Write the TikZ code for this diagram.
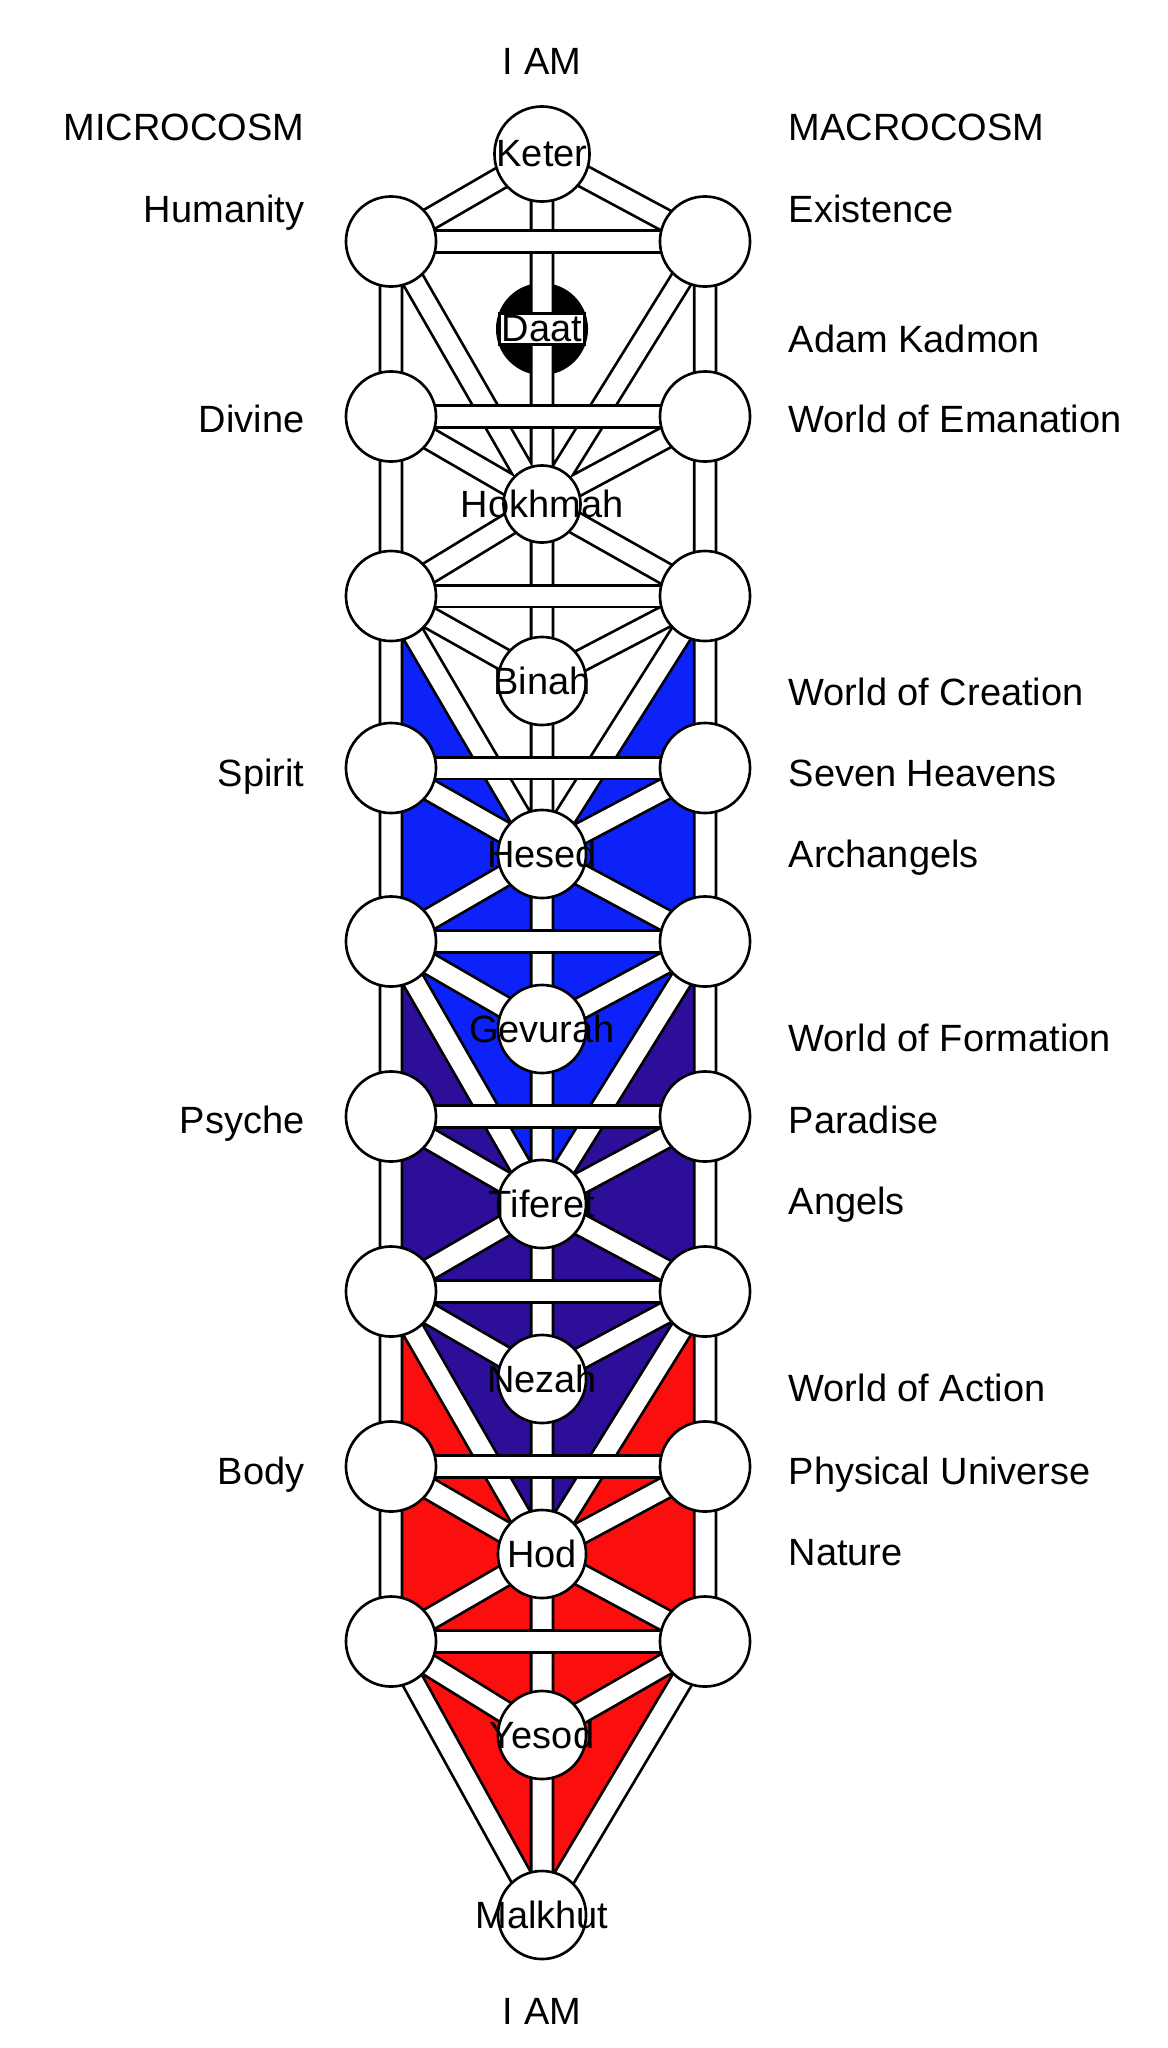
\documentclass[tikz,border=0pt]{standalone}
\usepackage{fontspec}
\setmainfont{Liberation Sans}
\usepackage{tikz}
\usepackage{xcolor}
\usetikzlibrary{positioning}

\definecolor{creationblue}{RGB}{12,34,248}
\definecolor{formationindigo}{RGB}{44,14,152}
\definecolor{actionred}{RGB}{250,14,14}

\pgfdeclarelayer{fills}
\pgfdeclarelayer{paths}
\pgfsetlayers{fills,paths,main}

\newcommand{\sefname}[1]{\makebox[0pt][c]{#1}}

\begin{document}
\begin{tikzpicture}[
  x=0.01cm, y=-0.01cm,
  labelfont/.style={font=\fontsize{10.8}{13}\selectfont},
  sefira/.style={circle, draw, line width=0.75pt, fill=white, minimum size=0.88cm, inner sep=0pt, labelfont},
  pillar/.style={sefira, minimum size=0.9cm},
  band/.style={draw=white, line width=0.19cm, preaction={draw=black, line width=0.245cm}},
  leftlabel/.style={labelfont, anchor=base east, inner sep=0pt},
  rightlabel/.style={labelfont, anchor=base west, inner sep=0pt},
]
\useasboundingbox (0,0) rectangle (1168,2048);

% middle column
\node[sefira, minimum size=0.95cm] (keter) at (542,154) {\sefname{Keter}};
\node[sefira, minimum size=0.77cm] (hokhmah) at (542,504) {\sefname{Hokhmah}};
\node[sefira] (binah) at (542,681) {\sefname{Binah}};
\node[sefira] (hesed) at (542,854) {\sefname{Hesed}};
\node[sefira] (gevurah) at (542,1029) {\sefname{Gevurah}};
\node[sefira] (tiferet) at (542,1204) {\sefname{Tiferet}};
\node[sefira] (nezah) at (542,1379) {\sefname{Nezah}};
\node[sefira] (hod) at (542,1554) {\sefname{Hod}};
\node[sefira] (yesod) at (542,1735) {\sefname{Yesod}};
\node[sefira] (malkhut) at (542,1915) {\sefname{Malkhut}};

% left and right columns
\node[pillar] (l1) at (391,241.5) {};
\node[pillar] (l2) at (391,416.5) {};
\node[pillar] (l3) at (391,596) {};
\node[pillar] (l4) at (391,768) {};
\node[pillar] (l5) at (391,941.5) {};
\node[pillar] (l6) at (391,1116.5) {};
\node[pillar] (l7) at (391,1291.5) {};
\node[pillar] (l8) at (391,1466.5) {};
\node[pillar] (l9) at (391,1641.5) {};
\node[pillar] (r1) at (705,241.5) {};
\node[pillar] (r2) at (705,416.5) {};
\node[pillar] (r3) at (705,596) {};
\node[pillar] (r4) at (705,768) {};
\node[pillar] (r5) at (705,941.5) {};
\node[pillar] (r6) at (705,1116.5) {};
\node[pillar] (r7) at (705,1291.5) {};
\node[pillar] (r8) at (705,1466.5) {};
\node[pillar] (r9) at (705,1641.5) {};

% the four worlds, lowest first
\begin{pgfonlayer}{fills}
  \fill[actionred] (tiferet.center) -- (r7.center) -- (r9.center) -- (malkhut.center) -- (l9.center) -- (l7.center) -- cycle;
  \fill[formationindigo] (hesed.center) -- (r5.center) -- (r7.center) -- (hod.center) -- (l7.center) -- (l5.center) -- cycle;
  \fill[creationblue] (hokhmah.center) -- (r3.center) -- (r5.center) -- (tiferet.center) -- (l5.center) -- (l3.center) -- cycle;
  \fill[white] (keter.center) -- (r1.center) -- (r3.center) -- (hesed.center) -- (l3.center) -- (l1.center) -- cycle;
  \node[circle, fill=black, minimum size=0.92cm, inner sep=0pt] (daat) at (542,329) {};
\end{pgfonlayer}
\node[draw, fill=white, line width=0.75pt, inner sep=0.6pt, labelfont] (daatname) at (daat) {Daat};

% paths
\begin{pgfonlayer}{paths}
  \draw[band]
    (keter.center) -- (malkhut.center)
    (l1.center) -- (l9.center)
    (r1.center) -- (r9.center)
    (keter.center) -- (l1.center) (keter.center) -- (r1.center)
    (l1.center) -- (hokhmah.center) (r1.center) -- (hokhmah.center)
    (l2.center) -- (hokhmah.center) (r2.center) -- (hokhmah.center)
    (l3.center) -- (hokhmah.center) (r3.center) -- (hokhmah.center)
    (l3.center) -- (binah.center) (r3.center) -- (binah.center)
    (l3.center) -- (hesed.center) (r3.center) -- (hesed.center)
    (l4.center) -- (hesed.center) (r4.center) -- (hesed.center)
    (l5.center) -- (hesed.center) (r5.center) -- (hesed.center)
    (l5.center) -- (gevurah.center) (r5.center) -- (gevurah.center)
    (l5.center) -- (tiferet.center) (r5.center) -- (tiferet.center)
    (l6.center) -- (tiferet.center) (r6.center) -- (tiferet.center)
    (l7.center) -- (tiferet.center) (r7.center) -- (tiferet.center)
    (l7.center) -- (nezah.center) (r7.center) -- (nezah.center)
    (l7.center) -- (hod.center) (r7.center) -- (hod.center)
    (l8.center) -- (hod.center) (r8.center) -- (hod.center)
    (l9.center) -- (hod.center) (r9.center) -- (hod.center)
    (l9.center) -- (yesod.center) (r9.center) -- (yesod.center)
    (l9.center) -- (malkhut.center) (r9.center) -- (malkhut.center);
  \draw[band]
    (l1.center) -- (r1.center)
    (l2.center) -- (r2.center)
    (l3.center) -- (r3.center)
    (l4.center) -- (r4.center)
    (l5.center) -- (r5.center)
    (l6.center) -- (r6.center)
    (l7.center) -- (r7.center)
    (l8.center) -- (r8.center)
    (l9.center) -- (r9.center);
\end{pgfonlayer}

% titles
\node[labelfont, anchor=base, inner sep=0pt] (iamtop) at (542,74) {I AM};
\node[labelfont, anchor=base, inner sep=0pt] (iambottom) at (542,2024) {I AM};
\node[leftlabel] (micro) at (305,140) {MICROCOSM};
\node[rightlabel] (macro) at (788,140) {MACROCOSM};

% microcosm
\node[leftlabel] (humanity) at (305,222) {Humanity};
\node[leftlabel] (divine) at (305,432) {Divine};
\node[leftlabel] (spirit) at (305,786) {Spirit};
\node[leftlabel] (psyche) at (305,1133) {Psyche};
\node[leftlabel] (body) at (305,1484) {Body};

% macrocosm
\node[rightlabel] (existence) at (788,222) {Existence};
\node[rightlabel] (adamkadmon) at (788,352) {Adam Kadmon};
\node[rightlabel] (emanation) at (788,432) {World of Emanation};
\node[rightlabel] (creation) at (788,705) {World of Creation};
\node[rightlabel] (heavens) at (788,786) {Seven Heavens};
\node[rightlabel] (archangels) at (788,867) {Archangels};
\node[rightlabel] (formation) at (788,1051) {World of Formation};
\node[rightlabel] (paradise) at (788,1133) {Paradise};
\node[rightlabel] (angels) at (788,1214) {Angels};
\node[rightlabel] (action) at (788,1401) {World of Action};
\node[rightlabel] (physical) at (788,1484) {Physical Universe};
\node[rightlabel] (nature) at (788,1565) {Nature};

\end{tikzpicture}
\end{document}
